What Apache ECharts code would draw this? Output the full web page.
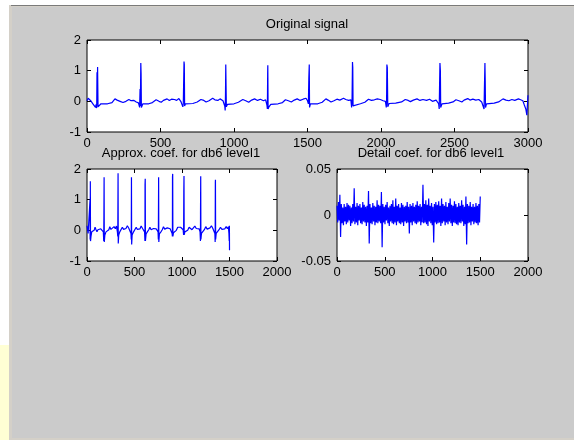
<!DOCTYPE html>
<html><head><meta charset="utf-8">
<script src="https://cdn.jsdelivr.net/npm/echarts@6/dist/echarts.min.js"></script>
<style>
html,body{margin:0;padding:0;width:574px;height:440px;background:#fff;overflow:hidden;position:relative}
.bg{position:absolute}
#chart{position:absolute;left:0;top:0;width:574px;height:440px}
</style></head>
<body>
<div class="bg" style="left:0;top:345px;width:10px;height:95px;background:#ffffd4"></div>
<div class="bg" style="left:9px;top:5px;width:565px;height:435px;background:#d4d0c8"></div>
<div class="bg" style="left:11px;top:5px;width:563px;height:1px;background:#7a7a7a"></div>
<div class="bg" style="left:12px;top:7px;width:562px;height:431px;background:#cbcbcb"></div>
<div id="chart"></div>
<script>
// ---- Data ----
var titles = ['Original signal', 'Approx. coef. for db6 level1', 'Detail coef. for db6 level1'];
var xTicksTop = [0, 500, 1000, 1500, 2000, 2500, 3000];
var xTicksBottom = [0, 500, 1000, 1500, 2000];
var yTicksSignal = [-1, 0, 1, 2];
var yTicksDetail = [-0.05, 0, 0.05];

// Original signal: [sample, value] key points
var originalSignal = [[0,0.02],[8,0.1],[15,0.05],[25,0.02],[40,-0.08],[50,-0.05],[58,-0.2],[62,-0.1],[66,-0.22],[68,0.95],[69,-0.1],[72,1.12],[75,-0.18],[80,-0.12],[95,-0.08],[140,-0.08],[170,-0.04],[190,0.08],[205,0.04],[225,0.0],[245,-0.04],[265,0.0],[285,0.06],[300,0.02],[320,0.03],[335,-0.02],[350,-0.05],[358,-0.2],[361,0.4],[363,-0.15],[366,1.25],[368,0.9],[370,-0.2],[374,-0.22],[380,-0.08],[420,-0.08],[445,-0.04],[470,0.05],[490,0.0],[505,-0.03],[520,0.03],[545,0.08],[560,0.03],[575,0.07],[595,0.06],[610,0.03],[625,0.09],[640,-0.02],[652,-0.18],[655,-0.08],[660,1.3],[662,1.2],[664,-0.15],[670,-0.08],[720,-0.07],[750,-0.02],[775,0.06],[795,0.03],[810,-0.02],[830,0.02],[855,0.1],[870,0.05],[890,0.03],[905,0.08],[925,0.02],[937,-0.15],[940,-0.3],[942,0.2],[944,1.2],[946,1.15],[948,-0.18],[955,-0.1],[1000,-0.08],[1030,-0.03],[1060,0.06],[1080,0.02],[1100,-0.03],[1120,0.04],[1140,0.08],[1160,0.03],[1180,0.07],[1200,0.02],[1215,0.05],[1224,-0.12],[1227,-0.25],[1229,0.9],[1230,1.18],[1232,-0.25],[1238,-0.18],[1250,-0.1],[1300,-0.08],[1330,-0.04],[1350,0.05],[1370,0.02],[1390,-0.02],[1410,0.04],[1430,0.08],[1450,0.03],[1470,0.07],[1490,0.1],[1500,0.02],[1506,-0.08],[1509,0.75],[1512,1.2],[1514,-0.2],[1520,-0.08],[1570,-0.08],[1600,-0.03],[1625,0.08],[1640,0.04],[1660,-0.02],[1680,0.02],[1700,0.07],[1720,0.04],[1745,0.1],[1760,0.06],[1780,0.03],[1795,0.05],[1800,-0.2],[1803,0.0],[1806,1.28],[1808,1.1],[1810,-0.15],[1818,-0.1],[1860,-0.08],[1890,-0.03],[1915,0.07],[1935,0.03],[1955,0.05],[1975,0.08],[1995,0.06],[2015,0.02],[2030,0.0],[2036,-0.2],[2038,0.0],[2040,1.2],[2043,1.1],[2046,-0.18],[2055,-0.07],[2100,-0.06],[2140,-0.02],[2165,0.06],[2185,0.03],[2200,-0.01],[2220,0.04],[2245,0.08],[2265,0.03],[2285,0.06],[2310,0.03],[2330,0.07],[2350,0.0],[2375,0.04],[2392,-0.08],[2396,-0.25],[2398,0.35],[2401,1.25],[2404,1.0],[2406,-0.2],[2415,-0.08],[2460,-0.06],[2490,-0.02],[2510,0.05],[2530,0.02],[2550,-0.02],[2565,0.04],[2590,0.09],[2605,0.04],[2625,0.07],[2645,0.04],[2665,0.06],[2685,-0.02],[2698,-0.08],[2701,-0.25],[2703,0.3],[2707,1.25],[2709,0.7],[2711,-0.2],[2718,-0.08],[2770,-0.06],[2800,-0.02],[2830,0.08],[2850,0.04],[2870,0.02],[2890,0.06],[2910,0.03],[2935,0.08],[2950,0.05],[2965,0.02],[2975,-0.12],[2985,-0.25],[2992,-0.45],[2995,-0.2],[3000,0.2]];

// Approximation coefficients: [index, value] key points
var approxCoef = [[0,0.15],[5,0.05],[12,-0.1],[20,-0.05],[28,-0.15],[32,1.0],[33,-0.3],[35,1.6],[37,-0.35],[42,-0.2],[50,-0.05],[60,-0.08],[75,0.0],[85,0.1],[95,0.02],[105,-0.05],[115,0.02],[130,0.08],[145,0.05],[160,0.1],[172,-0.05],[176,-0.35],[178,0.5],[180,1.73],[182,-0.38],[188,-0.15],[200,-0.05],[215,-0.05],[230,0.02],[240,0.12],[252,0.03],[262,-0.02],[272,0.05],[285,0.12],[298,0.05],[310,0.14],[320,-0.05],[324,-0.2],[327,1.86],[329,-0.43],[334,-0.15],[345,-0.05],[360,-0.02],[372,0.1],[385,0.03],[397,0.0],[410,0.06],[425,0.15],[440,0.07],[455,0.02],[463,-0.1],[466,-0.3],[468,1.73],[470,-0.46],[475,-0.15],[490,-0.05],[505,0.0],[518,0.1],[530,0.03],[545,-0.02],[558,0.05],[570,0.14],[585,0.06],[598,0.12],[606,-0.05],[610,-0.35],[611,1.5],[613,1.68],[615,-0.35],[622,-0.12],[635,-0.05],[650,0.02],[662,0.1],[675,0.02],[688,-0.03],[700,0.06],[712,0.12],[728,0.05],[740,0.1],[748,-0.05],[751,-0.3],[754,1.73],[756,-0.38],[762,-0.12],[778,-0.05],[792,0.02],[805,0.12],[818,0.04],[832,0.0],[845,0.08],[860,0.14],[875,0.05],[890,0.1],[896,-0.1],[899,-0.2],[900,1.75],[902,1.84],[904,-0.2],[910,-0.08],[925,-0.05],[940,0.0],[955,0.1],[970,0.05],[985,0.1],[1000,0.08],[1012,0.02],[1017,-0.15],[1019,1.25],[1021,1.77],[1023,-0.15],[1030,-0.05],[1045,-0.03],[1060,0.0],[1075,0.1],[1090,0.04],[1105,0.02],[1120,0.08],[1135,0.14],[1150,0.06],[1165,0.12],[1180,0.05],[1190,-0.05],[1194,-0.35],[1195,0.55],[1197,1.76],[1199,-0.3],[1205,-0.1],[1220,-0.05],[1235,0.02],[1250,0.12],[1265,0.04],[1280,0.0],[1295,0.08],[1310,0.15],[1325,0.06],[1340,0.1],[1346,-0.1],[1349,-0.38],[1351,1.55],[1352,1.65],[1354,-0.3],[1360,-0.1],[1375,-0.05],[1390,0.02],[1405,0.1],[1420,0.03],[1435,-0.02],[1450,0.05],[1465,0.12],[1478,0.05],[1488,0.12],[1494,-0.1],[1497,-0.35],[1499,0.15],[1500,-0.65]];

// Detail coefficients (in thousandths), one value every 7.5 samples from 0 to 1500
var detailStep = 7.5;
var detailMilli = [10,-8,14,-6,22,-24,12,-9,8,-11,
12,-7,9,-10,13,-8,11,-6,10,-12,
8,-9,12,-7,29,-10,9,-8,13,-11,
10,-6,12,-9,8,-10,14,-7,11,-8,
9,-12,10,-8,26,-31,12,-9,8,-10,
13,-7,10,-11,9,-8,16,-9,11,-7,
10,-9,25,-35,12,-8,9,-10,11,-6,
14,-9,8,-12,10,-7,12,-9,16,-10,
9,-8,18,-11,10,-7,12,-9,8,-10,
13,-8,11,-12,9,-7,10,-9,14,-8,
9,-20,12,-8,10,-11,13,-7,9,-9,
11,-10,15,-8,10,-7,12,-11,9,-8,
33,-9,12,-8,16,-10,11,-12,18,-7,
10,-9,13,-11,9,-30,12,-8,14,-10,
11,-9,15,-8,10,-12,18,-9,12,-7,
10,-11,14,-8,9,-10,13,-7,18,-9,
11,-12,10,-8,15,-9,12,-10,9,-11,
13,-8,10,-9,16,-7,11,-12,9,-10,
20,-32,12,-9,10,-8,14,-11,9,-7,
12,-10,9,-8,13,-9,10,-11,12,-8,
20];

// ---- Build chart ----
var detailCoef = detailMilli.map(function(v, i){ return [i * detailStep, v / 1000]; });
var FONT = 'Liberation Sans, Arial, sans-serif';
var FS = 13;
var grids = [
  {left:87, top:40, width:441, height:92},
  {left:87, top:169, width:190, height:92},
  {left:337, top:169, width:191, height:92}
];
var xCfg = [
  {min:0, max:3000, interval:500},
  {min:0, max:2000, interval:500},
  {min:0, max:2000, interval:500}
];
var yCfg = [
  {min:-1, max:2, interval:1},
  {min:-1, max:2, interval:1},
  {min:-0.05, max:0.05, interval:0.05}
];
function fmtY(v){
  var r = Math.round(v*1000)/1000;
  if (Math.abs(r) < 1e-9) return '0';
  return String(r);
}
function fmtX(v){ return String(Math.round(v)); }
var titleStyle = {fontSize:FS, fontWeight:'normal', color:'#000', fontFamily:FONT};
var option = {
  animation:false,
  backgroundColor:'transparent',
  textStyle:{fontFamily:FONT},
  title:[
    {text:titles[0], left:307, top:18, textAlign:'center', padding:0, textStyle:titleStyle},
    {text:titles[1], left:181, top:147, textAlign:'center', padding:0, textStyle:titleStyle},
    {text:titles[2], left:431, top:147, textAlign:'center', padding:0, textStyle:titleStyle}
  ],
  grid: grids.map(function(g){ return Object.assign({show:true, backgroundColor:'#fff', borderColor:'#000', borderWidth:1}, g); }),
  xAxis:[], yAxis:[], series:[]
};
for (var i = 0; i < 3; i++) {
  ['bottom','top'].forEach(function(pos){
    option.xAxis.push({
      type:'value', gridIndex:i, position:pos, min:xCfg[i].min, max:xCfg[i].max, interval:xCfg[i].interval,
      axisLine:{show:false, onZero:false}, splitLine:{show:false},
      axisTick:{show:true, inside:true, length:4, lineStyle:{color:'#000'}},
      axisLabel:{show:pos==='bottom', color:'#000', fontSize:FS, fontFamily:FONT, margin:5, formatter:fmtX,
        showMinLabel:true, showMaxLabel:true}
    });
  });
  ['left','right'].forEach(function(pos){
    option.yAxis.push({
      type:'value', gridIndex:i, position:pos, min:yCfg[i].min, max:yCfg[i].max, interval:yCfg[i].interval,
      axisLine:{show:false, onZero:false}, splitLine:{show:false},
      axisTick:{show:true, inside:true, length:4, lineStyle:{color:'#000'}},
      axisLabel:{show:pos==='left', color:'#000', fontSize:FS, fontFamily:FONT, margin:6, formatter:fmtY,
        showMinLabel:true, showMaxLabel:true}
    });
  });
}
var datas = [originalSignal, approxCoef, detailCoef];
for (var k = 0; k < 3; k++) {
  option.series.push({
    type:'line', xAxisIndex:k*2, yAxisIndex:k*2, data:datas[k],
    showSymbol:false, symbol:'none', silent:true,
    lineStyle:{color:'#0000ff', width:1.2},
    clip:true
  });
}
var chart = echarts.init(document.getElementById('chart'), null, {renderer:'canvas'});
chart.setOption(option);
</script>
</body></html>
